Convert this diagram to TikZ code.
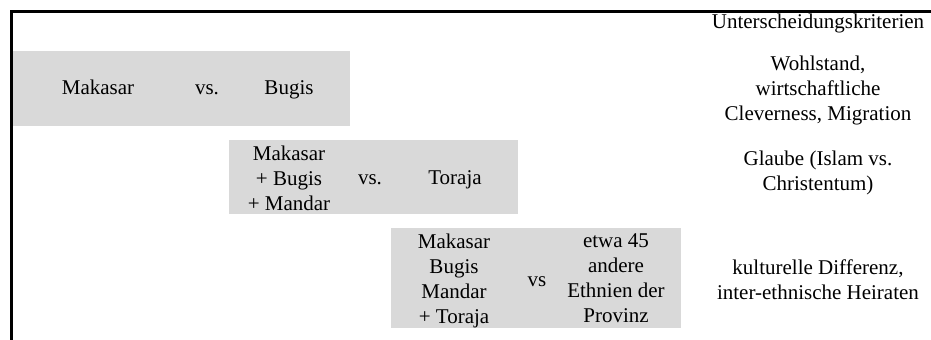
\documentclass[tikz,border=0pt]{standalone}
\usepackage{fontspec}
\setmainfont{Liberation Serif}
\definecolor{cellgray}{RGB}{217,217,217}

\begin{document}
\begin{tikzpicture}[x=0.5pt,y=-0.5pt,
        every node/.style={align=center,inner sep=0pt,font=\fontsize{10.5}{12.5}\selectfont}]
                \useasboundingbox (0,0) rectangle (931,340);
                
                % frame of the table
                \coordinate (bl) at (11.5,340);
                \coordinate (tl) at (11.5,11.5);
                \coordinate (tr) at (931,11.5);
                \draw[line width=1.5pt] (bl) -- (tl) -- (tr);
                
                % grey cells
                \foreach \a/\b/\c/\d in {13/51/350/126, 229/140/518/214, 391/228/681/328} {
                    \fill[cellgray] (\a,\b) rectangle (\c,\d);
                }
                
                % groups set against each other
                \node (mak1) at (98,87.7) {Makasar};
                \node (vs1) at (207,90) {vs.};
                \node (bug1) at (289,90) {Bugis};
                
                \node (mak2) at (289,178) {Makasar\\+ Bugis\\+ Mandar};
                \node (vs2) at (370,180) {vs.};
                \node (tor2) at (455,180) {Toraja};
                
                \node (mak3) at (454,281) {Makasar\\Bugis\\Mandar\\+ Toraja};
                \node (vs3) at (537,282) {vs};
                \node (eth3) at (616,278.5) {etwa 45\\andere\\Ethnien der\\Provinz};
                
                % criteria
                \node (crit) at (818,23.5) {Unterscheidungskriterien};
                \node (crit1) at (818,90) {Wohlstand,\\wirtschaftliche\\Cleverness, Migration};
                \node (crit2) at (818,173) {Glaube (Islam vs.\\Christentum)};
                \node (crit3) at (818,280) {kulturelle Differenz,\\inter-ethnische Heiraten};
            \end{tikzpicture}
\end{document}
